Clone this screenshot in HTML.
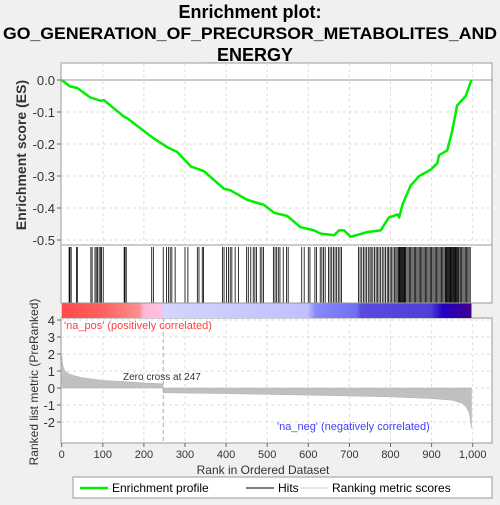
<!DOCTYPE html>
<html><head><meta charset="utf-8"><style>
body{margin:0;background:#f0f0f0;font-family:"Liberation Sans",sans-serif}
svg text{font-family:"Liberation Sans",sans-serif}
</style></head><body>
<svg id="c" width="500" height="500" xmlns="http://www.w3.org/2000/svg">
<rect width="500" height="500" fill="#f0f0f0"/>
<text x="250" y="18" text-anchor="middle" font-size="18" font-weight="bold" fill="#000">Enrichment plot:</text>
<text x="3" y="39" font-size="17" font-weight="bold" fill="#000" textLength="494" lengthAdjust="spacingAndGlyphs">GO_GENERATION_OF_PRECURSOR_METABOLITES_AND</text>
<text x="250" y="61" text-anchor="middle" font-size="18" font-weight="bold" fill="#000">_ENERGY</text>
<g id="g"></g>
</svg>
<script>
const esRanks=[0,20,38,70,95,103,152,160,221,257,281,314,346,395,411,452,492,517,549,581,614,630,663,675,687,703,744,776,796,817,821,829,849,870,898,914,918,938,950,962,983,997];
const esValues=[0,-0.02,-0.025,-0.055,-0.065,-0.063,-0.115,-0.12,-0.18,-0.21,-0.225,-0.27,-0.285,-0.34,-0.345,-0.375,-0.39,-0.415,-0.425,-0.46,-0.47,-0.48,-0.485,-0.47,-0.47,-0.49,-0.475,-0.47,-0.43,-0.42,-0.43,-0.39,-0.33,-0.3,-0.28,-0.26,-0.235,-0.22,-0.16,-0.08,-0.05,0];
const hitRanks=[18,20,23,36,38,71,74,81,84,87,91,94,97,101,152,154,157,219,223,247,255,260,264,268,276,300,307,330,334,342,345,391,395,401,406,410,414,422,430,450,454,460,466,470,474,483,487,491,515,519,523,527,531,539,547,551,584,590,600,604,616,620,629,633,637,641,649,653,657,661,665,669,673,677,681,722,726,730,734,738,742,746,750,753,757,761,765,768,772,776,780,784,788,792,795,799,802,806,810,813,816,819,821,823,825,827,829,831,833,835,837,840,843,846,849,852,855,858,861,864,867,870,873,876,879,882,885,888,891,894,897,900,903,906,909,912,915,918,921,924,927,930,933,935,937,939,941,943,945,947,949,951,953,955,957,959,961,963,965,967,970,973,976,979,982,985,988,991,994];
const metricRanks=[0,3,8,20,50,100,150,200,246,247,400,600,800,900,950,975,985,992,997];
const metricValues=[2.0,1.3,1.0,0.8,0.6,0.45,0.38,0.3,0.25,-0.28,-0.33,-0.42,-0.52,-0.62,-0.72,-0.9,-1.15,-1.5,-2.35];
const esTicks=[0,-0.1,-0.2,-0.3,-0.4,-0.5];
const metricTicks=[4,3,2,1,0,-1,-2];
const xTicks=[0,100,200,300,400,500,600,700,800,900,1000];
const xTickLabels=["0","100","200","300","400","500","600","700","800","900","1,000"];

const L=61,R=492;
const X=r=>61.7+r*0.411;
const YE=v=>80-v*320;
const YM=v=>388-v*17;
const g=document.getElementById('g');
const NS="http://www.w3.org/2000/svg";
function mk(t,a,p){const e=document.createElementNS(NS,t);for(const k in a)e.setAttribute(k,a[k]);(p||g).appendChild(e);return e;}

const p1=mk('rect',{x:L,y:63,width:R-L,height:182,fill:'#fff',stroke:'#999'});


const p2=mk('rect',{x:L,y:245,width:R-L,height:58,fill:'#fff',stroke:'#999'});


const p3=mk('rect',{x:L,y:318,width:R-L,height:125,fill:'#fff',stroke:'#999'});



xTicks.forEach(t=>{
 mk('line',{x1:X(t),x2:X(t),y1:63,y2:245,stroke:'#ddd','stroke-dasharray':'3,3'});
 mk('line',{x1:X(t),x2:X(t),y1:318,y2:443,stroke:'#ddd','stroke-dasharray':'3,3'});
 mk('line',{x1:X(t),x2:X(t),y1:443,y2:447,stroke:'#666'});
 const tx=mk('text',{x:X(t),y:458,'text-anchor':'middle','font-size':11,fill:'#333'});
 tx.textContent=xTickLabels[xTicks.indexOf(t)];
 
 
});
esTicks.forEach(t=>{
 mk('line',{x1:L,x2:R,y1:YE(t),y2:YE(t),stroke:t===0?'#999':'#ddd','stroke-dasharray':t===0?'':'3,3'});
 mk('line',{x1:L-4,x2:L,y1:YE(t),y2:YE(t),stroke:'#666'});
 const tx=mk('text',{x:L-6,y:YE(t)+5,'text-anchor':'end','font-size':13,fill:'#333'});
 tx.textContent=t.toFixed(1);
 
 
});
metricTicks.forEach(t=>{
 mk('line',{x1:L,x2:R,y1:YM(t),y2:YM(t),stroke:'#ddd','stroke-dasharray':'3,3'});
 mk('line',{x1:L-4,x2:L,y1:YM(t),y2:YM(t),stroke:'#666'});
 const tx=mk('text',{x:L-6,y:YM(t)+5,'text-anchor':'end','font-size':13,fill:'#333'});
 tx.textContent=String(t);
 
 
});

hitRanks.forEach(r=>{
 const l=mk('line',{x1:X(r),x2:X(r),y1:247,y2:303,stroke:'#000','stroke-width':0.8});
 
 
});

const defs=mk('defs',{});
const lg=mk('linearGradient',{id:'cb',x1:0,x2:1,y1:0,y2:0},defs);
[[0,'#ff4a4a'],[0.1,'#ff6060'],[0.19,'#ff9090'],[0.2,'#ffb8dc'],[0.24,'#ffc0e0'],[0.25,'#d4d4ff'],[0.6,'#c0c0ff'],[0.62,'#8888ff'],[0.72,'#7070f0'],[0.73,'#5a4ae0'],[0.9,'#5040d8'],[0.93,'#2000c0'],[1,'#400090']].forEach(([o,c])=>mk('stop',{offset:o,'stop-color':c},lg));
const cb=mk('rect',{x:X(0),y:303,width:X(997)-X(0),height:15,fill:'url(#cb)'});


mk('line',{x1:L,x2:R,y1:303,y2:303,stroke:'#999'});

let d=`M${X(metricRanks[0])},${YM(0)}`;
metricRanks.forEach((r,i)=>{d+=` L${X(r)},${YM(metricValues[i])}`;});
d+=` L${X(metricRanks[metricRanks.length-1])},${YM(0)} Z`;
const ma=mk('path',{d,fill:'#c0c0c0',stroke:'#b0b0b0','stroke-width':0.5});


mk('line',{x1:X(247),x2:X(247),y1:318,y2:443,stroke:'#aaa','stroke-dasharray':'4,3'});
const zc=mk('text',{x:123,y:380,'font-size':10,fill:'#333'});zc.textContent='Zero cross at 247';


const pos=mk('text',{x:64,y:329,'font-size':11,fill:'#ff4040'});pos.textContent="'na_pos' (positively correlated)";


const neg=mk('text',{x:277,y:430,'font-size':11,fill:'#4040ff'});neg.textContent="'na_neg' (negatively correlated)";



const pts=esRanks.map((r,i)=>X(r)+','+YE(esValues[i])).join(' ');
const es=mk('polyline',{points:pts,fill:'none',stroke:'#00ee00','stroke-width':2.5,'stroke-linejoin':'round'});



const yt=mk('text',{x:0,y:0,transform:'translate(26,155) rotate(-90)','text-anchor':'middle','font-size':14,'font-weight':'bold',fill:'#333'});
yt.textContent='Enrichment score (ES)';


const yt2=mk('text',{x:0,y:0,transform:'translate(38,382) rotate(-90)','text-anchor':'middle','font-size':12,fill:'#333'});
yt2.textContent='Ranked list metric (PreRanked)';


const xt=mk('text',{x:263,y:474,'text-anchor':'middle','font-size':12,fill:'#333'});
xt.textContent='Rank in Ordered Dataset';



const lgd=mk('rect',{x:73,y:477,width:419,height:21,fill:'#fff',stroke:'#999'});


[[80,'#00ee00','Enrichment profile',2.5],[246,'#000','Hits',1],[300,'#ccc','Ranking metric scores',1]].forEach(([x,c,t,w])=>{
 mk('line',{x1:x,x2:x+28,y1:488,y2:488,stroke:c,'stroke-width':w});
 const tx=mk('text',{x:x+32,y:492,'font-size':12,fill:'#000'});tx.textContent=t;
 
 
});
</script>
</body></html>
